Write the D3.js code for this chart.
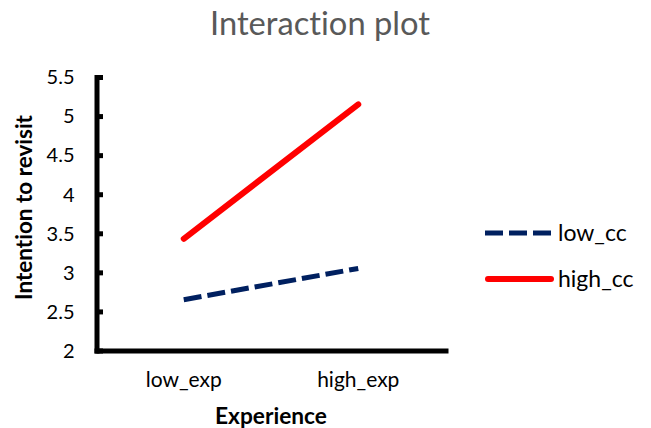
<!DOCTYPE html>
<html><head><meta charset="utf-8">
<script src="https://d3js.org/d3.v7.min.js"></script>
<style>body{margin:0;background:#fff}svg{display:block}text{font-family:Lato,"Open Sans",sans-serif;font-variant-ligatures:none;font-feature-settings:"liga" 0,"clig" 0}</style>
</head><body>
<svg id="c" width="651" height="428"></svg>
<script>
const categories = ["low_exp", "high_exp"];
const seriesNames = ["low_cc", "high_cc"];
const lowCC = [2.65, 3.05];
const highCC = [3.43, 5.15];
const yTicks = [2, 2.5, 3, 3.5, 4, 4.5, 5, 5.5];
const yTickLabels = ["2", "2.5", "3", "3.5", "4", "4.5", "5", "5.5"];

const svg = d3.select("#c");
const x = d3.scaleBand().domain(categories).range([96.5, 445.5]);
const y = d3.scaleLinear().domain([2, 5.5]).range([350.5, 77]);

function fit(sel, w) {
  const cur = parseFloat(sel.style("font-size"));
  const len = sel.node().getComputedTextLength();
  sel.style("font-size", (cur * w / len).toFixed(2) + "px");
}

// title
const title = svg.append("text").attr("x", 320).attr("y", 35).attr("text-anchor", "middle")
  .attr("fill", "#595959").style("font-size", "30px").text("Interaction plot");
fit(title, 220);

// y axis
const yAxis = d3.axisLeft(y).tickValues(yTicks).tickFormat((d, i) => yTickLabels[i])
  .tickSizeInner(-6.5).tickSizeOuter(0).tickPadding(22);
const gy = svg.append("g").attr("transform", "translate(96.5,0)").call(yAxis);
gy.select(".domain").attr("stroke", "#000").attr("stroke-width", 5).attr("stroke-linecap", "square");
gy.selectAll(".tick line").attr("stroke", "#000").attr("stroke-width", 5);
gy.selectAll(".tick text").attr("fill", "#000").style("font-size", "20px").style("font-family", "Lato,sans-serif")
  .attr("dy", "0.34em");

// x axis
const xAxis = d3.axisBottom(x).tickSize(0).tickSizeOuter(0).tickPadding(22);
const gx = svg.append("g").attr("transform", "translate(0,350.5)").call(xAxis);
gx.select(".domain").attr("stroke", "#000").attr("stroke-width", 5).attr("stroke-linecap", "square");
gx.selectAll(".tick text").attr("fill", "#000").style("font-size", "21px").style("font-family", "Lato,sans-serif")
  .attr("dy", "0.71em");

// axis titles
const xt = svg.append("text").attr("x", 271).attr("y", 424).attr("text-anchor", "middle")
  .attr("font-weight", "bold").attr("fill", "#000").style("font-size", "21px").text("Experience");
fit(xt, 112);
const yt = svg.append("text").attr("transform", "translate(32,207.5) rotate(-90)").attr("text-anchor", "middle")
  .attr("font-weight", "bold").attr("fill", "#000").style("font-size", "21px").text("Intention to revisit");
fit(yt, 185);

// lines
const line = d3.line().x((d, i) => x(categories[i]) + x.bandwidth() / 2).y(d => y(d));
svg.append("path").datum(lowCC).attr("d", line).attr("fill", "none").attr("stroke", "#002060")
  .attr("stroke-width", 5).attr("stroke-dasharray", "18,6");
svg.append("path").datum(highCC).attr("d", line).attr("fill", "none").attr("stroke", "#FF0000")
  .attr("stroke-width", 6).attr("stroke-linecap", "round");

// legend
const leg = [
  {name: seriesNames[0], color: "#002060", dash: "18,6", cap: "butt", w: 5, yy: 233},
  {name: seriesNames[1], color: "#FF0000", dash: null, cap: "round", w: 6, yy: 279}
];
leg.forEach(l => {
  svg.append("line").attr("x1", l.cap === "round" ? 488 : 485).attr("x2", l.cap === "round" ? 551 : 554)
    .attr("y1", l.yy).attr("y2", l.yy)
    .attr("stroke", l.color).attr("stroke-width", l.w).attr("stroke-linecap", l.cap)
    .attr("stroke-dasharray", l.dash);
  svg.append("text").attr("x", 558).attr("y", l.yy + 7.5).attr("fill", "#000")
    .style("font-size", "23px").text(l.name);
});
</script>
</body></html>
